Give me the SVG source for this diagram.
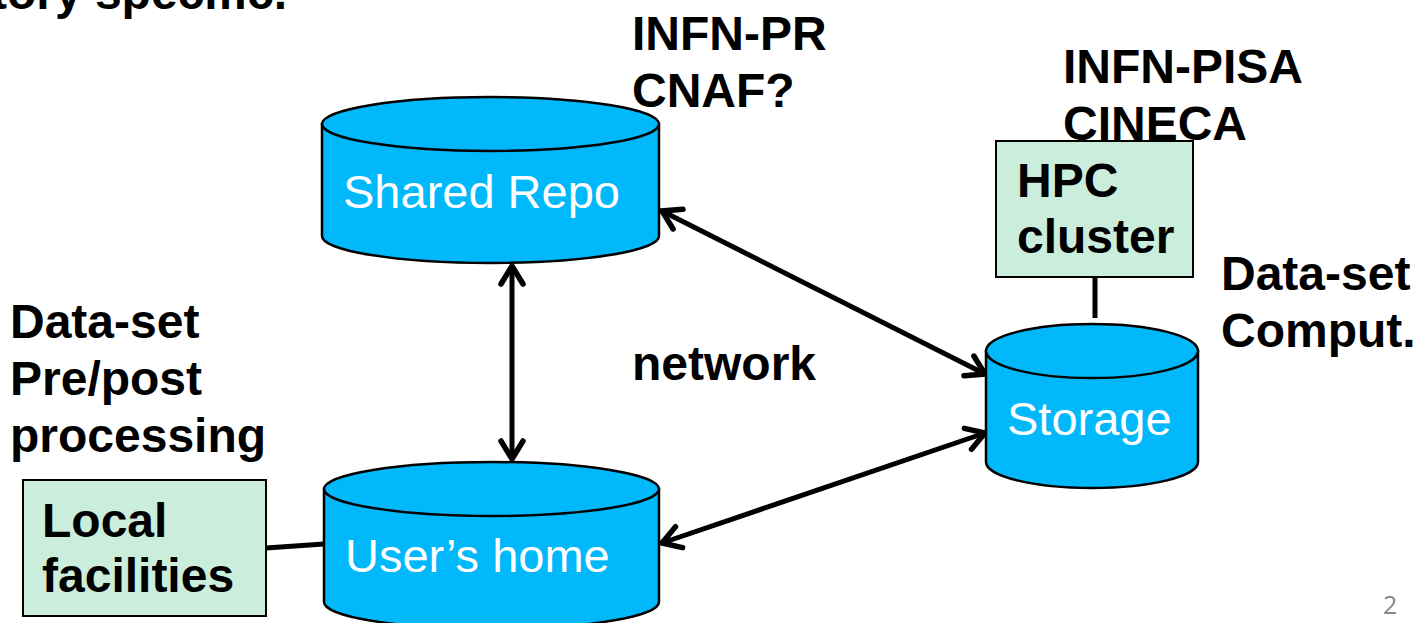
<svg xmlns="http://www.w3.org/2000/svg" width="1415" height="623" viewBox="0 0 1415 623">
<style>
.lbl{font-family:"Liberation Sans",Arial,sans-serif;font-weight:bold;font-size:48px;fill:#000}
.cyl{fill:#00B8FA;stroke:#000;stroke-width:2.5}
.cylt{font-family:"Liberation Sans",Arial,sans-serif;font-size:47px;fill:#fff}
.box{fill:#CBEDDC;stroke:#000;stroke-width:2}
.conn{stroke:#000;stroke-width:5;fill:none}
.arr{stroke:#000;stroke-width:5;fill:none;marker-start:url(#ah);marker-end:url(#ah)}
</style>
<defs>
<marker id="ah" markerUnits="userSpaceOnUse" viewBox="-26 -16 32 32" refX="0" refY="0" markerWidth="32" markerHeight="32" orient="auto-start-reverse">
<path d="M-18,-11 L0,0 L-18,11" fill="none" stroke="#000" stroke-width="5.5" stroke-linecap="round" stroke-linejoin="miter"/>
</marker>
</defs>
<rect width="1415" height="623" fill="#fff"/>
<text class="lbl" x="287" y="9" text-anchor="end">tory specific.</text>
<text class="lbl" x="632" y="50">INFN-PR</text>
<text class="lbl" x="632" y="107">CNAF?</text>
<text class="lbl" x="1063" y="83">INFN-PISA</text>
<text class="lbl" x="1063" y="140">CINECA</text>
<text class="lbl" x="1221" y="290">Data-set</text>
<text class="lbl" x="1221" y="347">Comput.</text>
<text class="lbl" x="10" y="338">Data-set</text>
<text class="lbl" x="10" y="395">Pre/post</text>
<text class="lbl" x="10" y="452">processing</text>
<text class="lbl" x="632" y="380">network</text>
<g id="connectors">
<line class="conn" x1="1095" y1="277" x2="1095" y2="318"/>
<line class="conn" x1="266" y1="548" x2="324" y2="544"/>
<line class="arr" x1="512" y1="266" x2="512" y2="459"/>
<line class="arr" x1="662" y1="211" x2="985" y2="374"/>
<line class="arr" x1="662" y1="543" x2="985" y2="433"/>
</g>
<g id="shared-repo">
<path class="cyl" d="M322,124 L322,236 A168.5,27 0 0 0 659,236 L659,124 Z"/>
<ellipse class="cyl" cx="490.5" cy="124" rx="168.5" ry="27"/>
<text class="cylt" x="343" y="208">Shared Repo</text>
</g>
<g id="users-home">
<path class="cyl" d="M324,489 L324,602 A167.5,27 0 0 0 659,602 L659,489 Z"/>
<ellipse class="cyl" cx="491.5" cy="489" rx="167.5" ry="27"/>
<text class="cylt" x="345" y="572">User’s home</text>
</g>
<g id="storage">
<path class="cyl" d="M986,351 L986,462 A106,26 0 0 0 1198,462 L1198,351 Z"/>
<ellipse class="cyl" cx="1092" cy="351" rx="106" ry="27"/>
<text class="cylt" x="1007" y="435">Storage</text>
</g>
<g id="hpc-cluster">
<rect class="box" x="996" y="141" width="197" height="136"/>
<text class="lbl" x="1017" y="197">HPC</text>
<text class="lbl" x="1017" y="253">cluster</text>
</g>
<g id="local-facilities">
<rect class="box" x="23" y="480" width="243" height="136"/>
<text class="lbl" x="42" y="537">Local</text>
<text class="lbl" x="42" y="592">facilities</text>
</g>
<text x="1383" y="614" font-family="'Open Sans','Liberation Sans',sans-serif" font-size="25" fill="#888">2</text>
</svg>
